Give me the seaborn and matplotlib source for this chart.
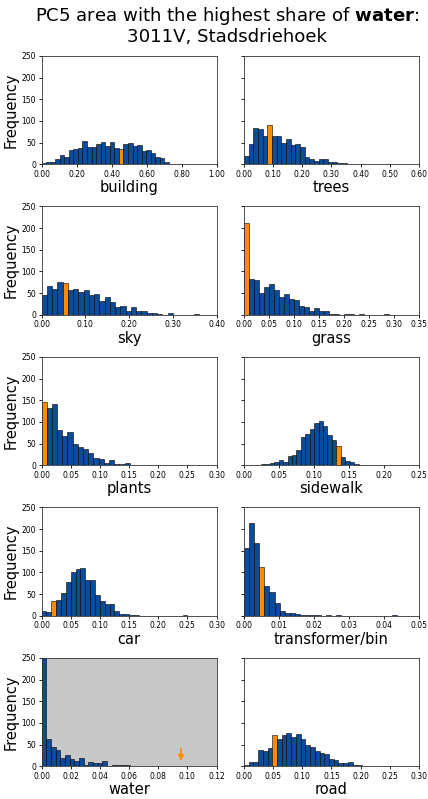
import numpy as np
import pandas as pd
import matplotlib
matplotlib.use("Agg")
import matplotlib.pyplot as plt
import seaborn as sns
from matplotlib.ticker import FormatStrFormatter

# ---- data (pre-binned histogram counts, 30 bins each) ----
categories = ["building", "trees", "sky", "grass", "plants",
              "sidewalk", "car", "transformer/bin", "water", "road"]

building_counts = [3, 5, 5, 12, 22, 16, 32, 35, 37, 53, 40, 40, 46, 52, 42, 51, 37, 34,
                   46, 49, 42, 44, 31, 32, 25, 17, 15, 4, 1, 1]
trees_counts = [19, 46, 84, 81, 66, 90, 66, 64, 50, 58, 44, 46, 40, 17, 13, 8, 13, 12,
                5, 4, 2, 2, 1, 1, 1, 0, 1, 1, 0, 1]
sky_counts = [46, 67, 59, 75, 73, 57, 59, 52, 57, 46, 48, 32, 40, 30, 17, 19, 9, 18,
              9, 9, 5, 3, 1, 0, 3, 0, 0, 0, 0, 1]
grass_counts = [211, 83, 81, 50, 64, 71, 56, 42, 48, 36, 33, 19, 17, 8, 16, 8, 8, 2,
                1, 0, 1, 1, 0, 2, 0, 0, 0, 0, 1, 0]
plants_counts = [145, 133, 142, 82, 67, 76, 49, 42, 38, 29, 16, 14, 6, 11, 3, 3, 5, 0,
                 0, 0, 0, 0, 0, 0, 0, 0, 0, 1, 0, 0]
sidewalk_counts = [1, 2, 2, 5, 8, 12, 7, 22, 24, 36, 65, 72, 83, 98, 101, 91, 69, 59,
                   44, 18, 9, 7, 3, 1, 0, 0, 1, 0, 1, 0]
car_counts = [10, 8, 34, 37, 52, 79, 102, 108, 111, 83, 83, 49, 34, 27, 27, 11, 4, 3,
              2, 1, 0, 0, 0, 0, 0, 0, 0, 0, 0, 1]
transformer_counts = [157, 213, 169, 112, 68, 55, 29, 12, 7, 6, 4, 2, 1, 1, 1, 0, 1, 0,
                      1, 0, 0, 0, 0, 0, 0, 0, 0, 0, 0, 1]
water_counts = [575, 62, 45, 37, 19, 25, 17, 13, 20, 4, 9, 7, 8, 12, 1, 3, 3, 2,
                2, 1, 0, 1, 0, 0, 1, 1, 0, 0, 0, 1]
road_counts = [4, 10, 10, 38, 35, 42, 73, 62, 72, 77, 68, 75, 63, 50, 45, 35, 31, 29,
               16, 15, 8, 8, 9, 2, 4, 1, 1, 0, 0, 1]

# value range covered by the 30 bins
bin_ranges = [(0.0, 0.78), (0.0, 0.48), (0.0, 0.36), (0.0, 0.30), (0.0, 0.267),
              (0.018, 0.208), (0.0, 0.25), (0.0, 0.0438), (0.0, 0.096), (0.0, 0.243)]
# bin of the highlighted PC5 area (3011V)
highlight_bin = [17, 5, 4, 0, 0, 18, 2, 3, None, 6]
water_highlight_value = 0.0955

x_limits = [(0, 1.0), (0, 0.6), (0, 0.4), (0, 0.35), (0, 0.3),
            (0, 0.25), (0, 0.3), (0, 0.05), (0, 0.12), (0, 0.3)]
x_steps = [0.2, 0.1, 0.1, 0.05, 0.05, 0.05, 0.05, 0.01, 0.02, 0.05]
y_ticks = [0, 50, 100, 150, 200, 250]

all_counts = [building_counts, trees_counts, sky_counts, grass_counts, plants_counts,
              sidewalk_counts, car_counts, transformer_counts, water_counts, road_counts]

BLUE = "#0a4b9a"
ORANGE = "#ff8c00"
GREY_BG = "#c8c8c8"

fig, axes = plt.subplots(5, 2, figsize=(4.28, 7.99), dpi=100, sharey=True,
                         gridspec_kw=dict(left=0.097, right=0.979, top=0.930,
                                          bottom=0.041, wspace=0.156, hspace=0.39))

for i, ax in enumerate(axes.flat):
    counts = np.array(all_counts[i], dtype=float)
    lo, hi = bin_ranges[i]
    edges = np.linspace(lo, hi, len(counts) + 1)
    centers = (edges[:-1] + edges[1:]) / 2
    df = pd.DataFrame({"value": centers, "count": counts})
    sns.histplot(data=df, x="value", weights="count", bins=list(edges), ax=ax,
                 color=BLUE, edgecolor="black", linewidth=0.4, alpha=1.0)
    hb = highlight_bin[i]
    if hb is not None:
        ax.patches[hb].set_facecolor(ORANGE)
    if categories[i] == "water":
        ax.set_facecolor(GREY_BG)
        ax.annotate("", xy=(water_highlight_value, 6), xytext=(water_highlight_value, 48),
                    arrowprops=dict(arrowstyle="-|>", color=ORANGE, lw=1.2,
                                    mutation_scale=8))
    ax.set_xlim(*x_limits[i])
    ax.set_xticks(np.arange(x_limits[i][0], x_limits[i][1] + 1e-9, x_steps[i]))
    ax.xaxis.set_major_formatter(FormatStrFormatter("%.2f"))
    ax.set_ylim(0, 250)
    ax.set_yticks(y_ticks)
    ax.tick_params(labelsize=5.5, length=2.5, width=0.6, pad=1.5)
    ax.set_xlabel(categories[i], fontsize=10.5, labelpad=1)
    if i % 2 == 0:
        ax.set_ylabel("Frequency", fontsize=10.5, labelpad=2)
        ax.tick_params(labelleft=True)
    else:
        ax.set_ylabel("")
    for s in ax.spines.values():
        s.set_linewidth(0.6)
        s.set_color("#333333")

fig.suptitle("PC5 area with the highest share of $\\bf{water}$:\n3011V, Stadsdriehoek",
             fontsize=13.1, x=0.53, y=0.994, linespacing=1.1)

fig.savefig("out.png", dpi=100)
